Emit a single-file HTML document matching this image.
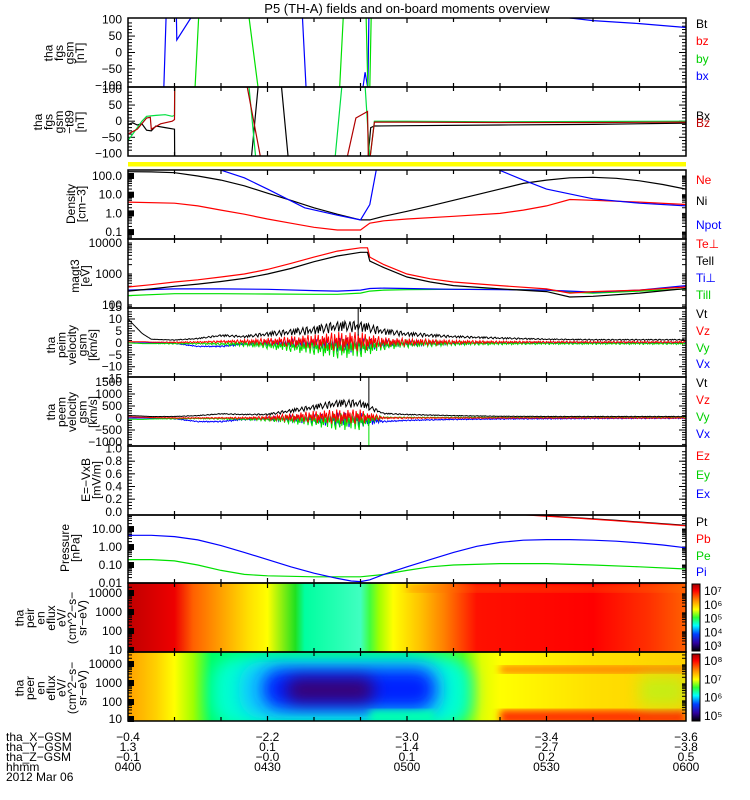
<!DOCTYPE html>
<html><head><meta charset="utf-8"><style>
html,body{margin:0;padding:0;background:#fff;}
svg{display:block;font-family:"Liberation Sans",sans-serif;}
</style></head><body>
<svg id="chart" width="750" height="800" viewBox="0 0 750 800" xmlns="http://www.w3.org/2000/svg">
<defs>
<linearGradient id="peirGrad" x1="0" x2="1" y1="0" y2="0"></linearGradient>
<linearGradient id="peerBase" x1="0" x2="1" y1="0" y2="0"></linearGradient>
<linearGradient id="cbar" x1="0" x2="0" y1="0" y2="1">
<stop offset="0" stop-color="#a00000"/><stop offset="0.1" stop-color="#ff0000"/><stop offset="0.25" stop-color="#ff9000"/><stop offset="0.38" stop-color="#ffff00"/><stop offset="0.5" stop-color="#30ff30"/><stop offset="0.62" stop-color="#00ffff"/><stop offset="0.75" stop-color="#0040ff"/><stop offset="0.88" stop-color="#3000a0"/><stop offset="1" stop-color="#000000"/>
</linearGradient>
<filter id="blur8" x="-30%" y="-60%" width="160%" height="220%"><feGaussianBlur stdDeviation="8"/></filter>
<filter id="blur4"><feGaussianBlur stdDeviation="4"/></filter>
</defs>
</svg>
<script>
// ---------- data ----------
const hourTicks = ['0400','0430','0500','0530','0600'];
const tickMinutes = [0,30,60,90,120];
const xGsm = ['-0.4','-2.2','-3.0','-3.4','-3.6'];
const yGsm = ['1.3','0.1','-1.4','-2.7','-3.8'];
const zGsm = ['-0.1','-0.0','0.1','0.2','0.5'];

// panel 1 fgs (t in minutes, value nT)
const fgsBxT = [7.7,8.2,10.4,10.5,13.5,37.5,38.3,50.5,51,51.6,51.8,52,92,100,110,120];
const fgsBxV = [-110,110,110,38,105,110,-110,-110,-60,-110,110,110,110,97,88,76];
const fgsByT = [14.4,15.2,26,28,45.5,46.3,51.2,51.6,52,52.3];
const fgsByV = [-110,110,110,-110,-110,110,110,-110,-110,110];

// panel 2 fgs - t89
const t89BxT = [0,1,2,3,4,5,6,8,10,10.05,26.5,28,33,34.5,51.6,52.2,53,60,80,100,120];
const t89BxV = [-10,-5,-12,-8,-28,-30,-15,-20,-25,-120,-120,110,110,-120,-120,-20,-15,-14,-12,-10,-6];
const t89ByT = [0,1,3,4,6,8,9.5,10,10.05,26,27.5,44.5,46,51,52,53,60,80,100,120];
const t89ByV = [-60,-40,0,15,18,20,15,18,110,110,-120,-120,110,110,-120,0,0,-2,-1,0];
const t89BzT = [0,2,4,4.8,5,7,9.5,10,10.05,25.6,28.6,47,49,51.5,51.7,52,53,60,80,100,120];
const t89BzV = [-40,-25,10,12,-25,-8,0,5,110,110,-120,-120,10,30,-120,-120,-3,-3,-4,-4,-3];

// density (cm^-3)
const neT = [0,10,15,20,25,30,35,40,45,50,52,55,60,70,80,85,90,95,100,110,120];
const densNe = [4,3.5,2.5,1.5,0.9,0.5,0.3,0.18,0.13,0.13,0.3,0.4,0.5,0.7,1.0,1.5,2.5,5.5,5,4,3];
const niT = [0,5,10,15,20,25,30,35,40,45,50,52,55,60,65,70,75,80,85,90,95,100,105,110,115,120];
const densNi = [170,165,150,100,60,30,12,5,2,0.9,0.45,0.45,0.7,1.3,2.5,5,10,20,40,60,80,85,75,55,35,20];
const npotT = [18,25,30,38,45,50,52,53.5];
const npotV = [300,80,20,2,0.8,0.45,3,300];
const npot2T = [76,80,85,90,100,110,120];
const npot2V = [400,200,60,20,6,3.5,2.5];

// temperatures (eV)
const teT = [0,5,10,15,20,25,30,35,40,45,50,51.5,52,55,60,65,70,80,90,95,100,110,120];
const tePerp = [380,450,550,650,800,1000,1400,2200,3500,5500,7000,7000,3500,2000,1000,700,550,420,330,240,270,300,380];
const tePar = [280,330,400,470,570,720,1000,1500,2500,3800,5000,5000,2600,1600,800,550,420,330,270,180,190,240,340];
const tiT = [0,10,20,30,40,45,50,52,55,60,70,80,90,95,100,110,120];
const tiPerp = [300,330,330,320,290,280,300,340,350,340,320,310,300,280,260,300,420];
const tiPar = [200,230,230,225,220,220,240,280,300,310,320,320,300,260,240,280,330];

// peim velocity (km/s), base + noise amplitude
const velT = [0,3,5,10,15,20,25,30,40,45,50,55,60,70,80,90,100,120];
const peimVt = [10,4,1.5,1,1.5,2.5,2,2.5,3,4,4,3,2.5,2,1.5,1.2,1,1];
const peimVtAmp = [0,0,0,0.3,0.5,1,1,2,4,5,5,3,2,1,0.8,0.5,0.5,0.5];
const peimVz = [0.5,0.5,0.3,0.2,0.3,0.5,0.5,0.5,0.5,0.5,0.5,0.3,0.3,0.3,0.3,0.3,0.3,0.3];
const peimVzAmp = [0,0,0,0.3,0.3,0.5,0.8,1.5,3,4,4,2,1.5,0.8,0.5,0.4,0.4,0.4];
const peimVy = [0,-0.3,-0.3,-0.3,-0.3,-0.5,-0.5,-1,-2,-2.5,-2,-1,-0.5,-0.3,-0.3,-0.3,-0.3,-0.3];
const peimVyAmp = [0,0,0,0.3,0.3,0.5,1,1.5,3,4,4,2,1.5,0.8,0.5,0.4,0.4,0.4];
const peimVx = [0,0,0,-0.2,-1.5,-1.5,-0.5,-0.2,-0.5,-1,-1,-0.5,-0.3,-0.2,0,0,0,0];
const peimVxAmp = [0,0,0,0.2,0.2,0.3,0.5,1,2,3,3,1.5,1,0.5,0.3,0.3,0.3,0.3];

// peem velocity (km/s)
const peemVt = [100,80,60,50,80,150,120,100,300,400,400,150,120,80,60,50,50,50];
const peemVtAmp = [0,0,0,20,30,40,40,80,250,350,350,60,40,30,20,20,20,20];
const peemVz = [50,30,20,0,0,0,0,0,50,50,50,0,0,0,0,0,0,0];
const peemVzAmp = [0,0,0,20,20,30,40,80,250,300,300,40,30,20,20,20,20,20];
const peemVy = [-50,-60,-40,-30,-20,-30,-50,-50,-100,-150,-150,20,20,20,20,20,20,20];
const peemVyAmp = [0,0,0,20,20,30,40,80,250,350,350,30,20,20,20,20,20,20];
const peemVx = [0,0,0,-30,-150,-150,-50,-30,-50,-80,-80,-150,-100,-60,-40,-30,-20,-10];
const peemVxAmp = [0,0,0,20,20,30,40,60,200,300,300,30,20,20,20,20,20,20];

// pressure (nPa)
const piT = [0,5,10,15,20,25,30,35,40,45,48,50,52,55,60,65,70,75,80,85,90,95,100,105,110,115,120];
const presPi = [4.5,4.5,3.8,2.5,1.2,0.5,0.2,0.08,0.035,0.018,0.013,0.012,0.015,0.03,0.08,0.2,0.5,1.1,1.8,2.4,2.6,2.6,2.4,2.1,1.7,1.3,0.9];
const peT = [0,5,10,15,20,25,30,40,50,55,60,65,70,80,90,100,110,120];
const presPe = [0.2,0.2,0.17,0.1,0.05,0.03,0.025,0.022,0.022,0.03,0.05,0.08,0.1,0.12,0.12,0.1,0.08,0.06];
const presPtT = [85,95,105,120];
const presPt = [65,45,30,16];

// spectrogram colour along time (colour per time knot)
const peirT = [0,10,14,20,26,30,36,38,50,52,54,57,63,68,75,100,112,120];
const peirC = ['#c00000','#ee0000','#ff6000','#ffa000','#ffe000','#ffff00','#20e020','#00ffa0','#40ffc0','#40ff40','#a0ff00','#ffff00','#ffc000','#ff8000','#ff1000','#ff0000','#ff3000','#ff6000'];
const peerT = [0,6,10,14,18,60,72,76,80,100,120];
const peerC = ['#ffa000','#ffd000','#ffff00','#a0ff00','#00ff60','#00ff60','#60ff00','#e0ff00','#ffff00','#ffe000','#ffd000'];
// jitter pattern for noisy moments
const jitter = [0.6,-0.9,0.2,1,-0.4,-1,0.8,-0.2,0.4,-0.7,1,-0.5,0.1,0.9,-1,0.3,-0.6,0.7,-0.3,0.5,-0.8,0.95,-0.15];

// ---------- helpers ----------
const svg = document.getElementById('chart');
const NS = 'http://www.w3.org/2000/svg';
const X0 = 128, X1 = 686;
const xOf = t => X0 + t*(X1-X0)/120;
function mk(tag, attrs, parent){
  const e = document.createElementNS(NS, tag);
  for (const k in attrs) e.setAttribute(k, attrs[k]);
  (parent||svg).appendChild(e);
  return e;
}
function interp(ts, vs, t){
  if (t<=ts[0]) return vs[0];
  for (let i=1;i<ts.length;i++) if (t<=ts[i]) { const f=(t-ts[i-1])/(ts[i]-ts[i-1]); return vs[i-1]+f*(vs[i]-vs[i-1]); }
  return vs[vs.length-1];
}
function linY(top,bot,vmin,vmax){ return v => bot - (v-vmin)/(vmax-vmin)*(bot-top); }
function logY(top,bot,lmin,lmax){ return v => bot - (Math.log10(v)-lmin)/(lmax-lmin)*(bot-top); }

const panels = [
 {name:'fgs-panel', top:18, bot:87},
 {name:'fgs-t89-panel', top:87, bot:156},
 {name:'density-panel', top:170, bot:239},
 {name:'temperature-panel', top:239, bot:308},
 {name:'peim-velocity-panel', top:308, bot:377},
 {name:'peem-velocity-panel', top:377, bot:446},
 {name:'efield-panel', top:446, bot:515},
 {name:'pressure-panel', top:515, bot:583},
 {name:'peir-spectrogram', top:583, bot:652},
 {name:'peer-spectrogram', top:652, bot:721}
];
let clipN = 0;
function clipFor(p){
  const id='clip'+(clipN++);
  const cp = mk('clipPath',{id:id}, svg.querySelector('defs'));
  mk('rect',{x:X0,y:p.top,width:X1-X0,height:p.bot-p.top},cp);
  return 'url(#'+id+')';
}
function line(p, ts, vs, yf, color, name){
  const pts = ts.map((t,i)=>xOf(t).toFixed(1)+','+yf(vs[i]).toFixed(1)).join(' ');
  const e = mk('polyline',{points:pts,fill:'none',stroke:color,'stroke-width':1.2,'clip-path':clipFor(p)});
  
  
  return e;
}
function noisy(p, ts, base, amp, yf, color, name, rect, phase){
  let d='';
  let i=0;
  for (let t=0;t<=120;t+=0.22,i++){
    const b=interp(ts,base,t), a=interp(ts,amp,t);
    let j=jitter[(i+phase)%jitter.length];
    if (rect) j=Math.abs(j);
    const v=b+a*j;
    d += (i?'L':'M')+xOf(t).toFixed(1)+','+yf(v).toFixed(1);
  }
  const e = mk('path',{d:d,fill:'none',stroke:color,'stroke-width':1,'clip-path':clipFor(p)});
  
  
}
function tickLabel(y,txt){
  const e=mk('text',{x:122,y:y+4,'text-anchor':'end','font-size':12,fill:'#000'});
  e.textContent=txt;
  
  
}
function leftTicks(p, ys){
  ys.forEach(y=>{ mk('line',{x1:X0,x2:X0+7,y1:y,y2:y,stroke:'#000','stroke-width':1}); mk('line',{x1:X1-7,x2:X1,y1:y,y2:y,stroke:'#000','stroke-width':1}); });
}
function minor(p, ys){
  ys.forEach(y=>{ mk('line',{x1:X0,x2:X0+4,y1:y,y2:y,stroke:'#000'}); mk('line',{x1:X1-4,x2:X1,y1:y,y2:y,stroke:'#000'}); });
}
function logMinor(p,yf,lmin,lmax){
  const ys=[];
  for(let d=Math.floor(lmin);d<=Math.ceil(lmax);d++) for(let m=1;m<10;m++){ const v=m*Math.pow(10,d); const y=yf(v); if(y>p.top+1&&y<p.bot-1) ys.push(y); }
  minor(p,ys);
}
function yTitle(cx, cy, lines, name){
  const g=mk('g',{});
  
  
  lines.forEach((l,i)=>{
    const x=cx+(i-(lines.length-1)/2)*10.5;
    const e=mk('text',{x:x,y:cy,'text-anchor':'middle','font-size':12,transform:'rotate(-90 '+x+' '+cy+')',fill:'#000'},g);
    e.textContent=l;
  });
}
function rlabel(y,txt,color){
  const e=mk('text',{x:696,y:y+4,'font-size':12,fill:color});
  e.textContent=txt;
  
  
}

// ---------- title ----------
const title = mk('text',{x:407,y:13,'text-anchor':'middle','font-size':13,fill:'#000'});
title.textContent='P5 (TH-A) fields and on-board moments overview';



// ---------- spectrograms ----------
const pg = document.getElementById('peirGrad');
peirT.forEach((t,i)=>mk('stop',{offset:t/120,'stop-color':peirC[i]},pg));
const pb = document.getElementById('peerBase');
peerT.forEach((t,i)=>mk('stop',{offset:t/120,'stop-color':peerC[i]},pb));
{
  const p=panels[8];
  const r=mk('rect',{x:X0,y:p.top,width:X1-X0,height:p.bot-p.top,fill:'url(#peirGrad)'});
  
  
  const cp=clipFor(p);
  mk('rect',{x:xOf(60),y:p.top+3,width:xOf(120)-xOf(60),height:6,fill:'#ff7000',opacity:0.5,filter:'url(#blur4)','clip-path':cp});
}
{
  const p=panels[9];
  const cp=clipFor(p);
  const g=mk('g',{'clip-path':cp});
  
  
  mk('rect',{x:X0,y:p.top,width:X1-X0,height:p.bot-p.top,fill:'url(#peerBase)'},g);
  mk('rect',{x:xOf(18),y:p.top+4,width:xOf(74)-xOf(18),height:72,rx:26,fill:'#00ffd0',filter:'url(#blur8)'},g);
  mk('rect',{x:xOf(24),y:p.top+10,width:xOf(68)-xOf(24),height:56,rx:22,fill:'#10c8ff',filter:'url(#blur8)'},g);
  mk('rect',{x:xOf(29),y:p.top+17,width:xOf(66)-xOf(29),height:40,rx:18,fill:'#0020ff',filter:'url(#blur8)'},g);
  mk('rect',{x:xOf(34),y:p.top+26,width:xOf(53)-xOf(34),height:24,rx:12,fill:'#3a0070',filter:'url(#blur8)'},g);
  mk('rect',{x:xOf(52),y:p.top+58,width:xOf(66)-xOf(52),height:14,fill:'#00ffb0',filter:'url(#blur4)'},g);
  mk('rect',{x:xOf(80),y:p.top+14,width:xOf(120)-xOf(80),height:7,fill:'#ff7000',filter:'url(#blur4)'},g);
  mk('rect',{x:xOf(80),y:p.top+58,width:xOf(120)-xOf(80),height:14,fill:'#ff3000',filter:'url(#blur4)'},g);
  mk('rect',{x:xOf(110),y:p.top+24,width:xOf(120)-xOf(110),height:30,fill:'#a0ff20',opacity:0.6,filter:'url(#blur8)'},g);
}
// colorbars
[[584,651,['10\u2077','10\u2076','10\u2075','10\u2074','10\u00b3'],'peir-colorbar'],[654,721,['10\u2078','10\u2077','10\u2076','10\u2075'],'peer-colorbar']].forEach(c=>{
  const r=mk('rect',{x:692,y:c[0],width:8,height:c[1]-c[0],fill:'url(#cbar)',stroke:'#000','stroke-width':1});
  
  
  c[2].forEach((l,i)=>{
    const y=c[0]+6+i*(c[1]-c[0]-12)/(c[2].length-1);
    const e=mk('text',{x:704,y:y+5,'font-size':12,fill:'#000'});
    e.textContent=l;
    
    
  });
});

// yellow bar
const yb=mk('rect',{x:X0,y:162,width:X1-X0,height:4.5,fill:'#ffff00'});



// ---------- panel 1 ----------
{
  const p=panels[0], yf=linY(p.top,p.bot,-105,105);
  [100,50,0,-50,-100].forEach(v=>{tickLabel(yf(v),v===0?'0':(v<0?'\u2212'+(-v):''+v));});
  leftTicks(p,[50,0,-50].map(yf));
  minor(p,[90,80,70,60,40,30,20,10,-10,-20,-30,-40,-60,-70,-80,-90].map(yf));
  line(p,fgsBxT,fgsBxV,yf,'#0000ff','fgs-bx-line');
  line(p,fgsByT,fgsByV,yf,'#00e000','fgs-by-line');
  yTitle(68,53,['tha','fgs','gsm','[nT]'],'fgs-y-title');
  rlabel(24,'Bt','#000');rlabel(41,'bz','#ff0000');rlabel(59,'by','#00d000');rlabel(76,'bx','#0000ff');
}
// ---------- panel 2 ----------
{
  const p=panels[1], yf=linY(p.top,p.bot,-108,106);
  [100,50,0,-50,-100].forEach(v=>{tickLabel(yf(v),v===0?'0':(v<0?'\u2212'+(-v):''+v));});
  leftTicks(p,[50,0,-50].map(yf));
  minor(p,[90,80,70,60,40,30,20,10,-10,-20,-30,-40,-60,-70,-80,-90].map(yf));
  line(p,t89BxT,t89BxV,yf,'#000','t89-bx-line');
  line(p,t89ByT,t89ByV,yf,'#00e040','t89-by-line');
  line(p,t89BzT,t89BzV,yf,'#b00000','t89-bz-line');
  yTitle(63,122,['tha','fgs','gsm','\u2212t89','[nT]'],'t89-y-title');
  rlabel(116,'Bx','#000');rlabel(123,'Bz','#c00000');
}
// ---------- panel 3 density ----------
{
  const p=panels[2], yf=logY(p.top,p.bot,-1.37,2.32);
  [[100,'100.0'],[10,'10.0'],[1,'1.0'],[0.1,'0.1']].forEach(a=>tickLabel(yf(a[0]),a[1]));
  logMinor(p,yf,-1.37,2.32);
  [100,10,1,0.1].forEach(v=>mk('rect',{x:X0,y:yf(v)-3,width:6,height:6,fill:'#000'}));
  line(p,niT,densNi,yf,'#000','density-ni-line');
  line(p,neT,densNe,yf,'#ff0000','density-ne-line');
  line(p,npotT,npotV,yf,'#0000ff','density-npot-line');
  line(p,npot2T,npot2V,yf,'#0000ff','density-npot-line-2');
  yTitle(80,204,['Density','[cm\u22123]'],'density-y-title');
  rlabel(180,'Ne','#ff0000');rlabel(201,'Ni','#000');rlabel(225,'Npot','#0000ff');
}
// ---------- panel 4 temps ----------
{
  const p=panels[3], yf=logY(p.top,p.bot,1.9,4.13);
  [[10000,'10000'],[1000,'1000'],[100,'100']].forEach(a=>tickLabel(yf(a[0]),a[1]));
  logMinor(p,yf,1.9,4.13);
  line(p,tiT,tiPar,yf,'#00e000','temp-ti-par-line');
  line(p,tiT,tiPerp,yf,'#0000ff','temp-ti-perp-line');
  line(p,teT,tePerp,yf,'#ff0000','temp-te-perp-line');
  line(p,teT,tePar,yf,'#000','temp-te-par-line');
  yTitle(84,276,['magt3','[eV]'],'temp-y-title');
  rlabel(244,'Te\u22a5','#ff0000');rlabel(261,'Tell','#000');rlabel(278,'Ti\u22a5','#0000ff');rlabel(295,'Till','#00d000');
}
// ---------- panel 5 peim ----------
{
  const p=panels[4], yf=linY(p.top,p.bot,-14.3,14.6);
  [15,10,5,0,-5,-10,-15].forEach(v=>tickLabel(yf(v),v<0?'\u2212'+(-v):''+v));
  leftTicks(p,[10,5,0,-5,-10].map(yf));
  minor(p,[13,12,11,9,8,7,6,4,3,2,1,-1,-2,-3,-4,-6,-7,-8,-9,-11,-12,-13].map(yf));
  noisy(p,velT,peimVx,peimVxAmp,yf,'#0000ff','peim-vx-line',false,3);
  noisy(p,velT,peimVy,peimVyAmp,yf,'#00e000','peim-vy-line',false,7);
  noisy(p,velT,peimVz,peimVzAmp,yf,'#ff0000','peim-vz-line',false,11);
  noisy(p,velT,peimVt,peimVtAmp,yf,'#000','peim-vt-line',true,0);
  mk('line',{x1:xOf(49.5),x2:xOf(49.5),y1:p.top,y2:yf(3),stroke:'#000'});
  yTitle(76,345,['tha','peim','velocity','gsm','[km/s]'],'peim-y-title');
  rlabel(314,'Vt','#000');rlabel(331,'Vz','#ff0000');rlabel(348,'Vy','#00d000');rlabel(364,'Vx','#0000ff');
}
// ---------- panel 6 peem ----------
{
  const p=panels[5], yf=linY(p.top,p.bot,-1167,1708);
  [1500,1000,500,0,-500,-1000].forEach(v=>tickLabel(yf(v),v<0?'\u2212'+(-v):''+v));
  leftTicks(p,[1000,500,0,-500].map(yf));
  minor(p,[1400,1300,1200,1100,900,800,700,600,400,300,200,100,-100,-200,-300,-400,-600,-700,-800,-900,-1100].map(yf));
  noisy(p,velT,peemVx,peemVxAmp,yf,'#0000ff','peem-vx-line',false,5);
  noisy(p,velT,peemVy,peemVyAmp,yf,'#00e000','peem-vy-line',false,9);
  noisy(p,velT,peemVz,peemVzAmp,yf,'#ff0000','peem-vz-line',false,13);
  noisy(p,velT,peemVt,peemVtAmp,yf,'#000','peem-vt-line',true,1);
  mk('line',{x1:xOf(51.8),x2:xOf(51.8),y1:p.top,y2:yf(300),stroke:'#000'});
  mk('line',{x1:xOf(51.8),x2:xOf(51.8),y1:yf(0),y2:p.bot,stroke:'#00e000'});
  yTitle(76,412,['tha','peem','velocity','gsm','[km/s]'],'peem-y-title');
  rlabel(383,'Vt','#000');rlabel(400,'Vz','#ff0000');rlabel(417,'Vy','#00d000');rlabel(434,'Vx','#0000ff');
}
// ---------- panel 7 E ----------
{
  const p=panels[6], yf=linY(p.top,p.bot,-0.05,1.04);
  [1,0.8,0.6,0.4,0.2,0].forEach(v=>tickLabel(yf(v),v.toFixed(1)));
  leftTicks(p,[0.8,0.6,0.4,0.2].map(yf));
  const mm=[];for(let v=0.05;v<1;v+=0.05) mm.push(yf(v));minor(p,mm);
  yTitle(95,480,['E=\u2212VxB','[mV/m]'],'efield-y-title');
  rlabel(456,'Ez','#ff0000');rlabel(475,'Ey','#00d000');rlabel(494,'Ex','#0000ff');
}
// ---------- panel 8 pressure ----------
{
  const p=panels[7], yf=logY(p.top,p.bot,-2,1.78);
  [[10,'10.00'],[1,'1.00'],[0.1,'0.10'],[0.01,'0.01']].forEach(a=>tickLabel(yf(a[0]),a[1]));
  logMinor(p,yf,-2,1.78);
  [10,1,0.1].forEach(v=>mk('rect',{x:X0,y:yf(v)-3,width:6,height:6,fill:'#000'}));
  line(p,peT,presPe,yf,'#00e000','pressure-pe-line');
  line(p,piT,presPi,yf,'#0000ff','pressure-pi-line');
  line(p,presPtT,presPt,yf,'#000','pressure-pt-line');
  line(p,presPtT,presPt.map(v=>v*0.95),yf,'#ff0000','pressure-pb-line');
  yTitle(74,548,['Pressure','[nPa]'],'pressure-y-title');
  rlabel(522,'Pt','#000');rlabel(539,'Pb','#ff0000');rlabel(556,'Pe','#00d000');rlabel(572,'Pi','#0000ff');
}
// spectrogram axes
[[panels[8],[593,612,631,650],'peir-y-title',['tha','peir','en','eflux','eV/','(cm^2\u2212s\u2212','sr\u2212eV)'],618],
 [panels[9],[664,683,702,719],'peer-y-title',['tha','peer','en','eflux','eV/','(cm^2\u2212s\u2212','sr\u2212eV)'],688]].forEach(s=>{
  const p=s[0];
  ['10000','1000','100','10'].forEach((l,i)=>tickLabel(s[1][i],l));
  const ys=[];
  s[1].forEach(y=>{for(let m=2;m<10;m++){const yy=y-19*Math.log10(m); if(yy>p.top+1&&yy<p.bot-1) ys.push(yy);} mk('rect',{x:X0,y:y-3,width:6,height:6,fill:'#000'});});
  minor(p,ys);
  yTitle(55,s[4],s[3],s[2]);
});

// panel frames & time ticks
panels.forEach(p=>{
  const r=mk('rect',{x:X0,y:p.top,width:X1-X0,height:p.bot-p.top,fill:'none',stroke:'#000','stroke-width':1.5});
  
  
  for(let t=10;t<120;t+=10){
    const len=(t%30===0)?5:4;
    mk('line',{x1:xOf(t),x2:xOf(t),y1:p.top,y2:p.top+len,stroke:'#000','stroke-width':1.2});
    mk('line',{x1:xOf(t),x2:xOf(t),y1:p.bot-len,y2:p.bot,stroke:'#000','stroke-width':1.2});
  }
});

// bottom annotation
const rowsY=[737,747,757,767,777];
['tha_X\u2212GSM','tha_Y\u2212GSM','tha_Z\u2212GSM','hhmm','2012 Mar 06'].forEach((l,i)=>{
  const e=mk('text',{x:6,y:rowsY[i]+4,'font-size':12,fill:'#000'});
  e.textContent=l;
  
  
});
[xGsm,yGsm,zGsm,hourTicks].forEach((arr,r)=>{
  arr.forEach((v,i)=>{
    const e=mk('text',{x:xOf(tickMinutes[i]),y:rowsY[r]+4,'text-anchor':'middle','font-size':12,fill:'#000'});
    e.textContent=v.replace('-','\u2212');
    
    
  });
});
</script>
</body></html>
